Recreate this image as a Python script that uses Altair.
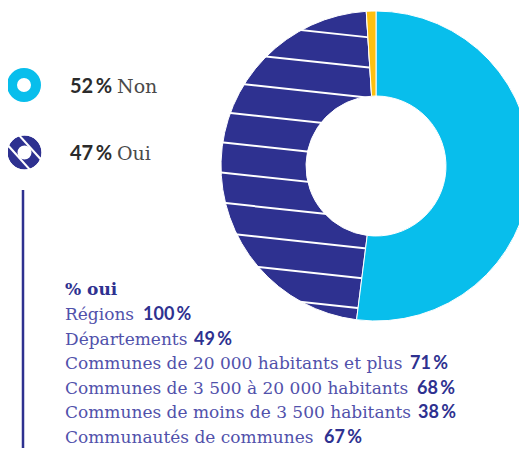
import math
import altair as alt
import pandas as pd

# ---------------- data ----------------
categories = ["Non", "Oui", "Autre"]
shares = [52, 47, 1]
colors = ["#08BEEC", "#2E3190", "#FDC010"]

legend_pct = ["52\u2009%", "47\u2009%"]
legend_lbl = ["Non", "Oui"]

title_text = "%  oui"
groups = [
    "Régions",
    "Départements",
    "Communes de 20 000 habitants et plus",
    "Communes de 3 500 à 20 000 habitants",
    "Communes de moins de 3 500 habitants",
    "Communautés de communes",
]
group_pct = [100, 49, 71, 68, 38, 67]

# ---------------- layout (page pixel coordinates) ----------------
W, H = 511, 440
X = alt.Scale(domain=[8, 8 + W])
Y = alt.Scale(domain=[8, 8 + H], reverse=True)
CX, CY, R_OUT, R_IN = 376, 166, 155, 70
SERIF = "DejaVu Serif"
NUMF = "Lato"
BLUE = "#2E3190"

def px(v):
    return v - 8

# donut
pie_df = pd.DataFrame({"cat": categories, "val": shares, "ord": list(range(len(categories)))})
base_arc = alt.Chart(pie_df).encode(
    theta=alt.Theta("val:Q", stack=True),
    order=alt.Order("ord:Q"),
    color=alt.Color("cat:N", scale=alt.Scale(domain=categories, range=colors), legend=None),
    x=alt.value(px(CX)),
    y=alt.value(px(CY)),
)
arc_full = base_arc.mark_arc(innerRadius=R_IN, outerRadius=R_OUT, stroke="white", strokeWidth=1)
arc_top = base_arc.mark_arc(innerRadius=R_IN, outerRadius=R_OUT, stroke="white", strokeWidth=1).encode(
    opacity=alt.condition(alt.datum.cat == "Oui", alt.value(0), alt.value(1))
)

# hatch stripes on the "Oui" slice (pattern styling)
slope = 0.108
x_a, x_b, x_ref = 205, CX, 310
rows = []
for i in range(10):
    y0 = 31 + 30.2 * i
    rows.append({"x1": x_a, "x2": x_b, "y1": y0 + slope * (x_a - x_ref), "y2": y0 + slope * (x_b - x_ref)})
stripe_df = pd.DataFrame(rows)
stripes = alt.Chart(stripe_df).mark_rule(color="white", strokeWidth=2).encode(
    x=alt.X("x1:Q", scale=X, axis=None),
    x2="x2:Q",
    y=alt.Y("y1:Q", scale=Y, axis=None),
    y2="y2:Q",
)

# legend icons
icon_df = pd.DataFrame({"cat": ["Non", "Oui"], "ix": [24, 24.5], "iy": [85, 152.5]})
icons = alt.Chart(icon_df).mark_arc(theta=0, theta2=2 * math.pi, innerRadius=7, outerRadius=17).encode(
    x=alt.X("ix:Q", scale=X, axis=None),
    y=alt.Y("iy:Q", scale=Y, axis=None),
    color=alt.Color("cat:N", scale=alt.Scale(domain=categories, range=colors), legend=None),
)
icx, icy = 24.5, 152.5
d = (math.cos(math.radians(48)), math.sin(math.radians(48)))
nrm = (d[1], -d[0])
irows = []
for s in (-7.5, 7.5):
    mx, my = icx + s * nrm[0], icy + s * nrm[1]
    irows.append({"x1": mx - 20 * d[0], "y1": my - 20 * d[1], "x2": mx + 20 * d[0], "y2": my + 20 * d[1]})
icon_stripes = alt.Chart(pd.DataFrame(irows)).mark_rule(color="white", strokeWidth=2.2).encode(
    x=alt.X("x1:Q", scale=X, axis=None), x2="x2:Q",
    y=alt.Y("y1:Q", scale=Y, axis=None), y2="y2:Q",
)
icon_mask = alt.Chart(pd.DataFrame({"ix": [icx], "iy": [icy]})).mark_arc(
    theta=0, theta2=2 * math.pi, innerRadius=17, outerRadius=26, color="white"
).encode(x=alt.X("ix:Q", scale=X, axis=None), y=alt.Y("iy:Q", scale=Y, axis=None))

# vertical line
vline = alt.Chart(pd.DataFrame({"x": [23], "y1": [190], "y2": [470]})).mark_rule(color=BLUE, strokeWidth=2.5).encode(
    x=alt.X("x:Q", scale=X, axis=None), y=alt.Y("y1:Q", scale=Y, axis=None), y2="y2:Q"
)

# legend texts
leg_df = pd.DataFrame({"pct": legend_pct, "lbl": legend_lbl, "ty": [93, 160]})
leg_pct = alt.Chart(leg_df).mark_text(align="left", baseline="alphabetic", font=NUMF, fontSize=20,
                                      fontWeight="bold", color="#2b2b2b").encode(
    x=alt.value(px(70)), y=alt.Y("ty:Q", scale=Y, axis=None), text="pct:N")
leg_lbl = alt.Chart(leg_df).mark_text(align="left", baseline="alphabetic", font=SERIF, fontSize=19,
                                      color="#4a4a4a").encode(
    x=alt.value(px(117)), y=alt.Y("ty:Q", scale=Y, axis=None), text="lbl:N")

# group list
title = alt.Chart(pd.DataFrame({"t": [title_text], "ty": [295]})).mark_text(
    align="left", baseline="alphabetic", font=SERIF, fontSize=17, fontWeight="bold", color=BLUE
).encode(x=alt.value(px(65)), y=alt.Y("ty:Q", scale=Y, axis=None), text="t:N")

num_x = [143, 194, 410, 417, 418, 324]
grp_df = pd.DataFrame({
    "g": groups,
    "p": [f"{v}\u2009%" for v in group_pct],
    "ty": [320 + 24.6 * i for i in range(len(groups))],
    "nx": num_x,
})
grp_lbl = alt.Chart(grp_df).mark_text(align="left", baseline="alphabetic", font=SERIF, fontSize=17,
                                      color="#5151AB").encode(
    x=alt.value(px(65)), y=alt.Y("ty:Q", scale=Y, axis=None), text="g:N")
grp_num = alt.Chart(grp_df).mark_text(align="left", baseline="alphabetic", font=NUMF, fontSize=18,
                                      fontWeight="bold", color=BLUE).encode(
    x=alt.X("nx:Q", scale=X, axis=None), y=alt.Y("ty:Q", scale=Y, axis=None), text="p:N")

chart = alt.layer(
    arc_full, stripes, arc_top,
    icons, icon_stripes, icon_mask,
    vline, leg_pct, leg_lbl, title, grp_lbl, grp_num,
).properties(
    width=W, height=H, autosize=alt.AutoSizeParams(type="none"), padding=0,
).configure_view(stroke=None)

chart.save("out.html", embed_options={"renderer": "svg", "actions": False})
